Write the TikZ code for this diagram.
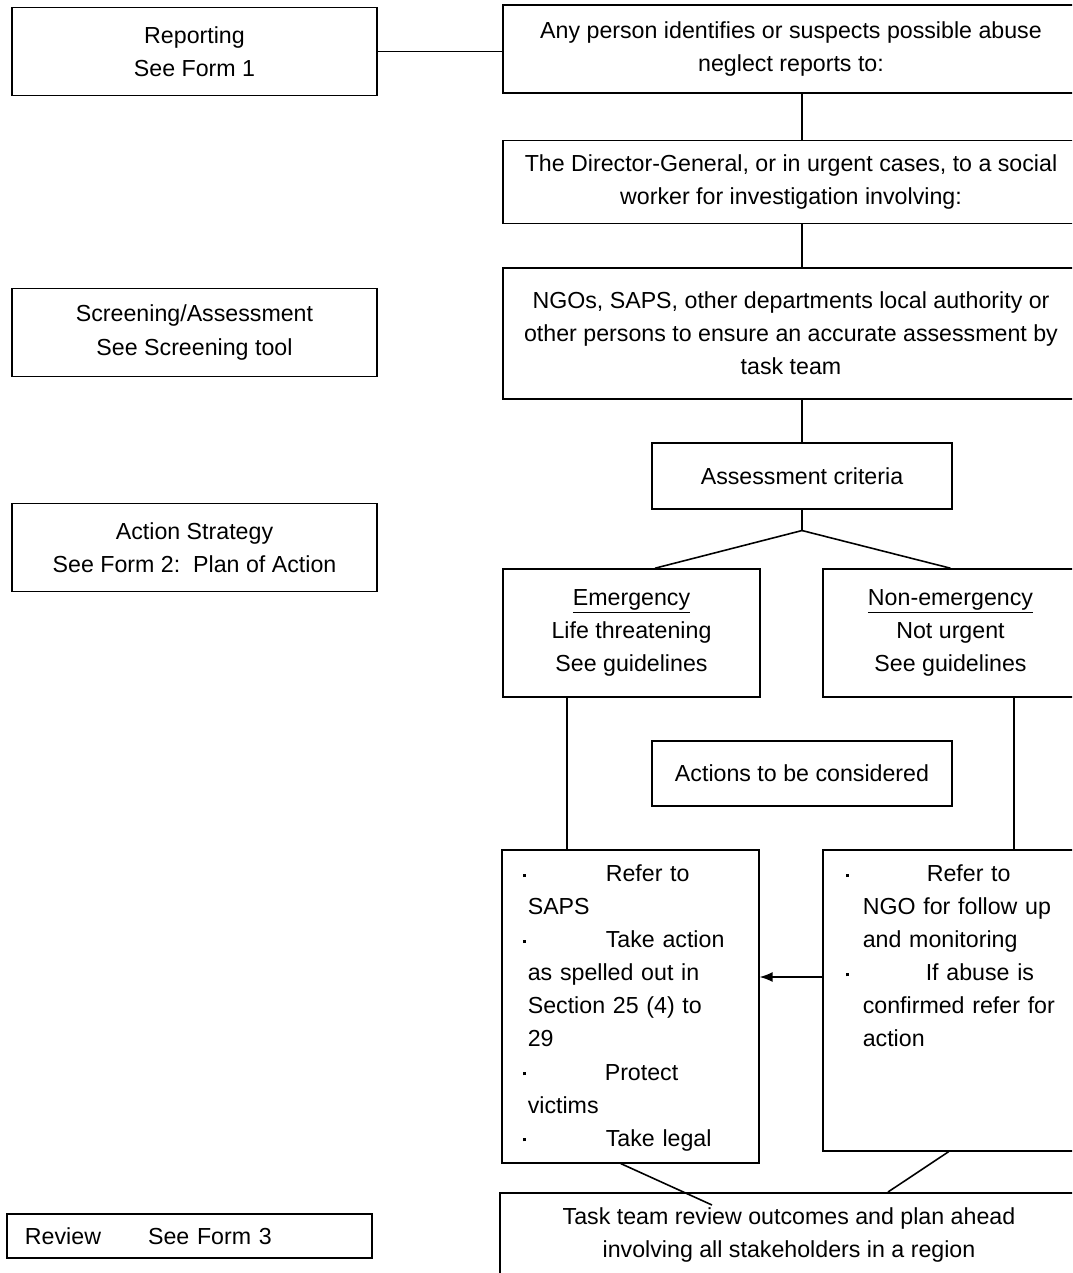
\documentclass[tikz,border=0pt]{standalone}
\usepackage{fontspec}
\setmainfont{Liberation Sans}
\usepackage{tikz}
\usetikzlibrary{arrows.meta,positioning,calc}
\newcommand{\dotmark}{\raisebox{0.2em}{\rule{0.06cm}{0.06cm}}}
\newcommand{\bpt}[3]{\leavevmode\llap{\dotmark\hspace{#1}}\hspace*{#2}#3}

\begin{document}
\begin{tikzpicture}[every node/.style={font=\fontsize{13.2}{18.8}\selectfont},box/.style={draw,line width=0.9pt,align=center,inner sep=0pt},side/.style={box,minimum width=7.3cm,minimum height=1.76cm},wide/.style={box,minimum width=11.52cm},lst/.style={box,align=left,anchor=north west,text height=0.64cm},ln/.style={line width=0.9pt},arr/.style={ln,-{Latex[length=0.26cm,width=0.2cm]}}]
\useasboundingbox (0,0) rectangle (21.44,-25.46);
\clip (0,0) rectangle (21.44,-25.46);
% left column: forms
\node[side] (rep) at (3.89,-1.03) {Reporting\\See Form 1};
\node[side] (scr) at (3.89,-6.65) {Screening/Assessment\\See Screening tool};
\node[side] (act) at (3.89,-10.95) {Action Strategy\\See Form 2:\ \ Plan of Action};
\node[box,align=left,text width=6.58cm,inner xsep=0.36cm,minimum height=0.88cm] (rev) at (3.79,-24.72) {Review\hspace{0.94cm}See Form 3};
% right column: procedure
\node[wide,minimum height=1.76cm] (rpt) at (15.82,-0.98) {Any person identifies or suspects possible abuse\\neglect reports to:};
\node[wide,minimum height=1.66cm,below=0.92cm of rpt] (dg) {The Director-General, or in urgent cases, to a social\\worker for investigation involving:};
\node[wide,minimum height=2.62cm,below=0.86cm of dg] (ngo) {NGOs, SAPS, other departments local authority or\\other persons to ensure an accurate assessment by\\task team};
\node[box,minimum width=6cm,minimum height=1.32cm,below=0.84cm of ngo,xshift=0.22cm] (crit) {Assessment criteria};
\coordinate[below=0.42cm of crit] (fork);
\node[box,minimum width=5.14cm,minimum height=2.56cm] (emer) at (12.63,-12.66) {\underline{Emergency}\\Life threatening\\See guidelines};
\node[box,minimum width=5.1cm,minimum height=2.56cm] (nonem) at (19.01,-12.66) {\underline{Non-emergency}\\Not urgent\\See guidelines};
\node[box,minimum width=6cm,minimum height=1.3cm] (cons) at (16.04,-15.47) {Actions to be considered};
\node[lst,inner xsep=0.52cm,text width=4.1cm,text depth=5.62cm] (actl) at (10.02,-16.98) {\bpt{0.04cm}{1.56cm}{Refer to}\\SAPS\\\bpt{0.04cm}{1.56cm}{Take action}\\as spelled out in\\Section 25 (4) to\\29\\\bpt{0.04cm}{1.54cm}{Protect}\\victims\\\bpt{0.04cm}{1.56cm}{Take legal}};
\node[lst,inner xsep=0.8cm,text width=4.2cm,text depth=5.38cm] (actr) at (16.44,-16.98) {\bpt{0.28cm}{1.28cm}{Refer to}\\NGO for follow up\\and monitoring\\\bpt{0.28cm}{1.26cm}{If abuse is}\\confirmed refer for\\action};
\node[box,minimum width=11.56cm,minimum height=1.7cm,anchor=north] (task) at (15.78,-23.84) {Task team review outcomes and plan ahead\\involving all stakeholders in a region};
\coordinate (lcol) at (11.34,0);\coordinate (rcol) at (20.28,0);\coordinate (arry) at (0,-19.54);\coordinate (tl) at (14.24,-24.10);
\draw[ln] (rep.east) -- (rep.east -| rpt.west);
\draw[ln] (rpt.south -| crit) -- (dg.north -| crit);\draw[ln] (dg.south -| crit) -- (ngo.north -| crit);\draw[ln] (ngo.south -| crit) -- (crit.north);
\draw[ln] (crit.south) -- (fork) -- ([xshift=0.47cm]emer.north);\draw[ln] (fork) -- (nonem.north);
\draw[ln] (emer.south -| lcol) -- (actl.north -| lcol);\draw[ln] (nonem.south -| rcol) -- (actr.north -| rcol);
\draw[arr] (actr.west |- arry) -- (actl.east |- arry);
\draw[ln] ([xshift=-0.19cm]actl.south) -- (tl);\draw[ln] ([xshift=-0.38cm]actr.south) -- ([xshift=1.98cm]task.north);
\end{tikzpicture}
\end{document}
